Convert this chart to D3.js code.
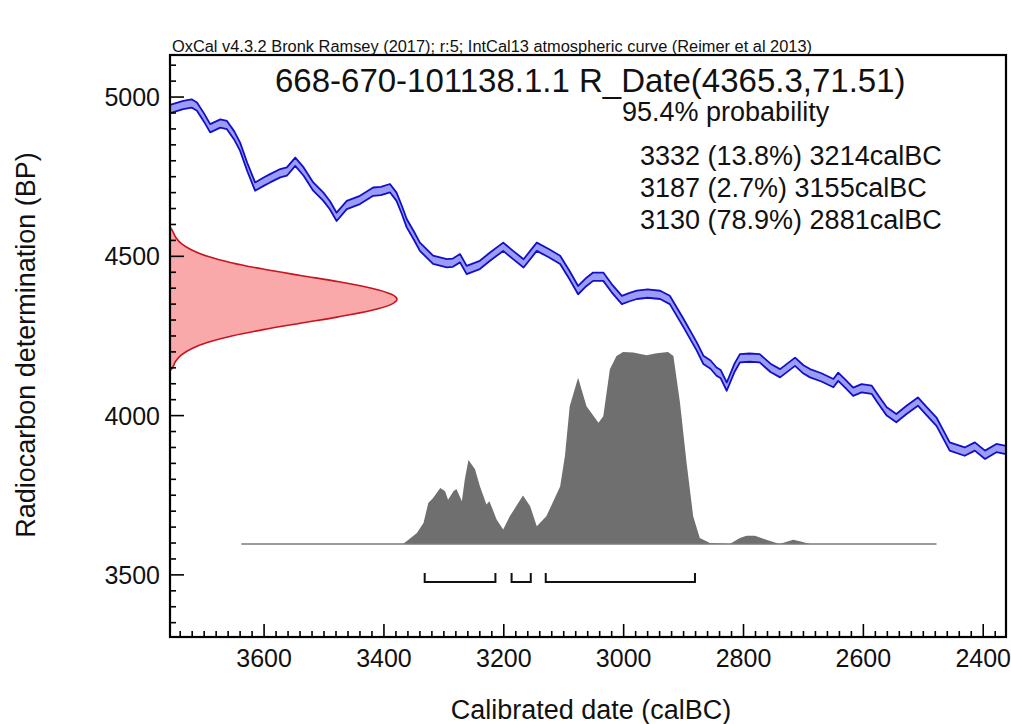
<!DOCTYPE html>
<html>
<head>
<meta charset="utf-8">
<script src="https://cdn.jsdelivr.net/npm/d3@7"></script>
<style>
  html, body { margin: 0; padding: 0; background: #ffffff; }
  svg { display: block; }
  text { font-family: "Liberation Sans", Arial, sans-serif; fill: #111; }
</style>
</head>
<body>
<svg id="chart" width="1011" height="724"></svg>
<script>
// ---------------- DATA ----------------
// IntCal13 calibration curve (cal BC, 14C BP)
const calYears = [3757, 3754, 3735, 3721, 3712, 3700, 3690, 3673, 3662, 3650, 3640, 3628, 3615, 3600, 3590, 3573, 3562, 3548, 3534, 3518, 3501, 3490, 3479, 3462, 3440, 3418, 3405, 3390, 3379, 3370, 3362, 3350, 3340, 3318, 3295, 3285, 3273, 3262, 3240, 3223, 3201, 3185, 3167, 3145, 3125, 3106, 3090, 3076, 3062, 3051, 3034, 3020, 3003, 2990, 2978, 2960, 2939, 2923, 2900, 2878, 2867, 2855, 2845, 2838, 2828, 2815, 2806, 2790, 2773, 2755, 2739, 2714, 2700, 2689, 2670, 2650, 2642, 2630, 2617, 2603, 2586, 2575, 2561, 2545, 2528, 2509, 2495, 2478, 2465, 2456, 2431, 2414, 2397, 2378, 2362];
const calBP    = [4962, 4964, 4975, 4980, 4970, 4935, 4902, 4917, 4912, 4880, 4844, 4780, 4719, 4735, 4745, 4761, 4766, 4797, 4766, 4719, 4687, 4660, 4624, 4661, 4677, 4703, 4705, 4714, 4687, 4645, 4604, 4565, 4530, 4489, 4478, 4480, 4494, 4457, 4473, 4499, 4530, 4505, 4478, 4530, 4510, 4489, 4440, 4394, 4420, 4436, 4436, 4400, 4363, 4372, 4379, 4383, 4379, 4363, 4290, 4217, 4175, 4160, 4138, 4130, 4091, 4150, 4180, 4182, 4180, 4150, 4133, 4169, 4145, 4133, 4120, 4102, 4122, 4100, 4075, 4086, 4081, 4050, 4013, 3992, 4018, 4044, 4015, 3981, 3935, 3903, 3887, 3903, 3877, 3898, 3892];
const calSigma = 13;

// Radiocarbon date likelihood R_Date(4365.3, 71.51)
const gaussBP   = [4592, 4580, 4560, 4540, 4520, 4500, 4480, 4460, 4440, 4420, 4400, 4380, 4365, 4350, 4330, 4310, 4290, 4270, 4250, 4230, 4210, 4190, 4170, 4150, 4140];
const gaussProb = [0.0, 0.011, 0.025, 0.050, 0.096, 0.165, 0.270, 0.410, 0.575, 0.745, 0.888, 0.978, 1.0, 0.977, 0.885, 0.742, 0.574, 0.411, 0.272, 0.167, 0.095, 0.049, 0.024, 0.011, 0.0];

// Calibrated posterior distribution (cal BC, relative probability)
const postYears = [3638, 3368, 3345, 3334, 3326, 3318, 3306, 3298, 3293, 3284, 3279, 3270, 3265, 3259, 3248, 3240, 3229, 3224, 3212, 3201, 3190, 3176, 3168, 3156, 3145, 3129, 3106, 3098, 3090, 3076, 3062, 3042, 3034, 3023, 3012, 3001, 2984, 2962, 2945, 2926, 2917, 2906, 2895, 2884, 2873, 2856, 2823, 2806, 2795, 2781, 2762, 2740, 2717, 2703, 2689, 2478];
const postProb  = [0, 0, 0.057, 0.110, 0.214, 0.240, 0.292, 0.275, 0.231, 0.275, 0.287, 0.223, 0.337, 0.438, 0.389, 0.302, 0.206, 0.223, 0.128, 0.075, 0.144, 0.213, 0.252, 0.197, 0.092, 0.144, 0.300, 0.458, 0.718, 0.866, 0.718, 0.632, 0.666, 0.910, 0.979, 1.0, 0.997, 0.983, 0.994, 1.0, 0.979, 0.736, 0.423, 0.145, 0.031, 0.005, 0, 0.031, 0.043, 0.043, 0.022, 0, 0.022, 0.012, 0, 0];

// 95.4% ranges
const rangeFrom = [3332, 3187, 3130];
const rangeTo   = [3214, 3155, 2881];
const rangeText = ["3332 (13.8%) 3214calBC", "3187 (2.7%) 3155calBC", "3130 (78.9%) 2881calBC"];

const xTicks = [3600, 3400, 3200, 3000, 2800, 2600, 2400];
const yTicks = [5000, 4500, 4000, 3500];

const creditText = "OxCal v4.3.2 Bronk Ramsey (2017); r:5; IntCal13 atmospheric curve (Reimer et al 2013)";
const titleText = "668-670-101138.1.1 R_Date(4365.3,71.51)";
const probText = "95.4% probability";
const xTitle = "Calibrated date (calBC)";
const yTitle = "Radiocarbon determination (BP)";

// ---------------- LAYOUT ----------------
const L = 170, R = 1006, T = 55, B = 637;
const svg = d3.select("#chart");

const x = d3.scaleLinear().domain([3757, 2362]).range([L, R]);
const y = d3.scaleLinear().domain([3305, 5132]).range([B, T]);
const gw = d3.scaleLinear().domain([0, 1]).range([L, L + 227]);
const postBase = 544, postTop = 352;
const ph = d3.scaleLinear().domain([0, 1]).range([postBase, postTop]);

svg.append("defs").append("clipPath").attr("id", "clip")
  .append("rect").attr("x", L).attr("y", T).attr("width", R - L).attr("height", B - T);
const plot = svg.append("g").attr("clip-path", "url(#clip)");

// Calibration curve band
const cal = calYears.map((d, i) => ({ yr: d, bp: calBP[i] }));
plot.append("path").datum(cal)
  .attr("d", d3.area().x(d => x(d.yr)).y0(d => y(d.bp - calSigma)).y1(d => y(d.bp + calSigma)))
  .attr("fill", "#9c9cf4");
[calSigma, -calSigma].forEach(s => {
  plot.append("path").datum(cal)
    .attr("d", d3.line().x(d => x(d.yr)).y(d => y(d.bp + s)))
    .attr("fill", "none").attr("stroke", "#1010c8").attr("stroke-width", 1.8)
    .attr("stroke-linejoin", "round");
});

// Radiocarbon likelihood (red)
const gauss = gaussBP.map((d, i) => ({ bp: d, p: gaussProb[i] }));
plot.append("path").datum(gauss)
  .attr("d", d3.area().curve(d3.curveMonotoneY).y(d => y(d.bp)).x0(L).x1(d => gw(d.p)))
  .attr("fill", "#f9a9a9");
plot.append("path").datum(gauss)
  .attr("d", d3.line().curve(d3.curveMonotoneY).y(d => y(d.bp)).x(d => gw(d.p)))
  .attr("fill", "none").attr("stroke", "#c8141e").attr("stroke-width", 1.6);

// Posterior (grey)
const post = postYears.map((d, i) => ({ yr: d, p: postProb[i] }));
plot.append("path").datum(post)
  .attr("d", d3.area().x(d => x(d.yr)).y0(postBase).y1(d => ph(d.p)))
  .attr("fill", "#6f6f6f");
plot.append("line")
  .attr("x1", x(postYears[0])).attr("x2", x(postYears[postYears.length - 1]))
  .attr("y1", postBase).attr("y2", postBase)
  .attr("stroke", "#7a7a7a").attr("stroke-width", 1.6);

// Range brackets
const brY = 582, brH = 9;
rangeFrom.forEach((f, i) => {
  const x1 = x(f), x2 = x(rangeTo[i]);
  plot.append("path")
    .attr("d", `M${x1},${brY - brH}V${brY}H${x2}V${brY - brH}`)
    .attr("fill", "none").attr("stroke", "#111").attr("stroke-width", 2);
});

// Frame
svg.append("rect").attr("x", L).attr("y", T).attr("width", R - L).attr("height", B - T)
  .attr("fill", "none").attr("stroke", "#000").attr("stroke-width", 2.2);

// Y ticks (inward)
const yMinor = d3.range(3350, 5150, 50);
svg.append("g").selectAll("line").data(yMinor).join("line")
  .attr("x1", L).attr("x2", d => L + (d % 500 === 0 ? 14 : 6))
  .attr("y1", d => y(d)).attr("y2", d => y(d))
  .attr("stroke", "#000").attr("stroke-width", 1.6);
svg.append("g").selectAll("text").data(yTicks).join("text")
  .attr("x", L - 10).attr("y", d => y(d) + 9)
  .attr("text-anchor", "end").attr("font-size", 25).text(d => d);

// X ticks (inward)
const xMinor = d3.range(2380, 3760, 20);
svg.append("g").selectAll("line").data(xMinor).join("line")
  .attr("x1", d => x(d)).attr("x2", d => x(d))
  .attr("y1", B).attr("y2", d => B - (d % 200 === 0 ? 13 : 6))
  .attr("stroke", "#000").attr("stroke-width", 1.6);
svg.append("g").selectAll("text").data(xTicks).join("text")
  .attr("x", d => x(d)).attr("y", B + 30)
  .attr("text-anchor", "middle").attr("font-size", 25).text(d => d);

// Texts
svg.append("text").attr("x", L + 2).attr("y", T - 3).attr("font-size", 16)
  .attr("textLength", 640).attr("lengthAdjust", "spacingAndGlyphs").text(creditText);
svg.append("text").attr("x", 275).attr("y", 92).attr("font-size", 33).text(titleText);
svg.append("text").attr("x", 622).attr("y", 121).attr("font-size", 27).text(probText);
rangeText.forEach((t, i) => {
  svg.append("text").attr("x", 640).attr("y", 165 + i * 32).attr("font-size", 27).text(t);
});
svg.append("text").attr("x", 591).attr("y", 719).attr("text-anchor", "middle")
  .attr("font-size", 27).text(xTitle);
svg.append("text").attr("transform", "translate(35,345) rotate(-90)")
  .attr("text-anchor", "middle").attr("font-size", 27).text(yTitle);
</script>
</body>
</html>
